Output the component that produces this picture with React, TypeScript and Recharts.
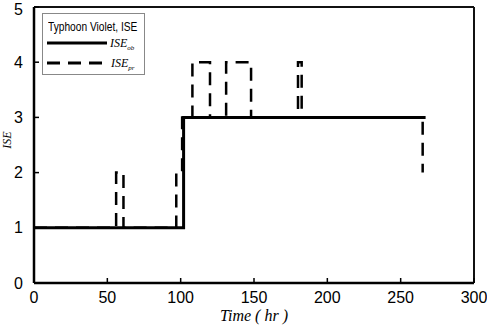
import React from 'react';
import { LineChart, Line, XAxis, YAxis, Legend, ReferenceLine } from 'recharts';

const ticksX = [0, 50, 100, 150, 200, 250, 300];
const ticksY = [0, 1, 2, 3, 4, 5];

// ISE_ob (solid)
const obTime = [0, 102, 102, 267];
const obIse = [1, 1, 3, 3];

// ISE_pr (dashed)
const prTime = [0, 56, 56, 61, 61, 97, 97, 101, 101, 108, 108, 120, 120, 131, 131, 148, 148, 180, 180, 182.5, 182.5, 265, 265];
const prIse = [1, 1, 2, 2, 1, 1, 2, 2, 3, 3, 4, 4, 3, 3, 4, 4, 3, 3, 4, 4, 3, 3, 2];

const obData = obTime.map((t, i) => ({ t, v: obIse[i] }));
const prData = prTime.map((t, i) => ({ t, v: prIse[i] }));

const DASH = '13 8';

const YTitle = (props: any) => {
  const vb = props.viewBox || { y: 7, height: 276 };
  const x = 11;
  const y = vb.y + vb.height / 2 - 5;
  return (
    <text x={x} y={y} transform={`rotate(-90 ${x} ${y})`} textAnchor="middle"
      fontFamily="'Liberation Serif', serif" fontStyle="italic" fontSize={12} fill="#000">
      ISE
    </text>
  );
};

const Sub = ({ main, sub }: { main: string; sub: string }) => (
  <span style={{ fontFamily: "'Liberation Serif', serif", fontStyle: 'italic', fontSize: 12 }}>
    {main}
    <sub style={{ fontSize: 7 }}>{sub}</sub>
  </span>
);

const LegendBox = () => (
  <div style={{ position: 'relative', width: 103, height: 62, border: '1px solid #888', background: '#fff', boxSizing: 'border-box' }}>
    <div style={{ position: 'absolute', left: 5, top: 6, fontFamily: "'Liberation Sans', Arial", fontSize: 12, whiteSpace: 'nowrap', transform: 'scaleX(0.85)', transformOrigin: 'left', color: '#000' }}>
      Typhoon Violet, ISE
    </div>
    <svg style={{ position: 'absolute', left: 0, top: 0 }} width={103} height={62}>
      <line x1={4} x2={64} y1={29} y2={29} stroke="#000" strokeWidth={3} />
      <line x1={4} x2={61} y1={49} y2={49} stroke="#000" strokeWidth={3} strokeDasharray={DASH} />
    </svg>
    <div style={{ position: 'absolute', left: 67, top: 21, lineHeight: '14px' }}>
      <Sub main="ISE" sub="ob" />
    </div>
    <div style={{ position: 'absolute', left: 68, top: 41, lineHeight: '14px' }}>
      <Sub main="ISE" sub="pr" />
    </div>
  </div>
);

export default function App() {
  return (
    <div style={{ position: 'absolute', left: 0, top: 0, width: 487, height: 325, background: '#fff' }}>
      <LineChart width={487} height={325} margin={{ top: 7, right: 13, bottom: 0, left: 0 }}>
        <XAxis
          xAxisId="b"
          dataKey="t"
          type="number"
          domain={[0, 300]}
          ticks={ticksX}
          allowDataOverflow
          height={42}
          tickSize={-5}
          tickMargin={14}
          axisLine={{ stroke: '#000', strokeWidth: 2.5 }}
          tickLine={{ stroke: '#000', strokeWidth: 1.5 }}
          tick={{ fill: '#000', fontSize: 16, fontFamily: "'Liberation Sans', Arial" }}
          label={{ value: 'Time ( hr )', position: 'insideBottom', offset: 4, fill: '#000', fontSize: 16, fontFamily: "'Liberation Serif', serif", fontStyle: 'italic' }}
        />
        <YAxis
          yAxisId="l"
          type="number"
          domain={[0, 5]}
          ticks={ticksY}
          width={34}
          tickSize={-5}
          tickMargin={16}
          axisLine={{ stroke: '#000', strokeWidth: 2.5 }}
          tickLine={{ stroke: '#000', strokeWidth: 1.5 }}
          tick={{ fill: '#000', fontSize: 16, fontFamily: "'Liberation Sans', Arial" }}
          label={<YTitle />}
        />
        <ReferenceLine xAxisId="b" yAxisId="l" y={5} stroke="#111" strokeWidth={2} />
        <ReferenceLine xAxisId="b" yAxisId="l" x={300} stroke="#111" strokeWidth={2} />
        <Legend
          layout="vertical"
          align="center"
          verticalAlign="middle"
          wrapperStyle={{ left: 42, top: 13, width: 103 }}
          content={() => <LegendBox />}
        />
        <Line xAxisId="b" yAxisId="l" data={prData} dataKey="v" name="ISE_pr" type="linear" stroke="#000" strokeWidth={2.5} strokeDasharray={DASH} dot={false} isAnimationActive={false} />
        <Line xAxisId="b" yAxisId="l" data={obData} dataKey="v" name="ISE_ob" type="linear" stroke="#000" strokeWidth={3} dot={false} isAnimationActive={false} />
      </LineChart>
    </div>
  );
}
